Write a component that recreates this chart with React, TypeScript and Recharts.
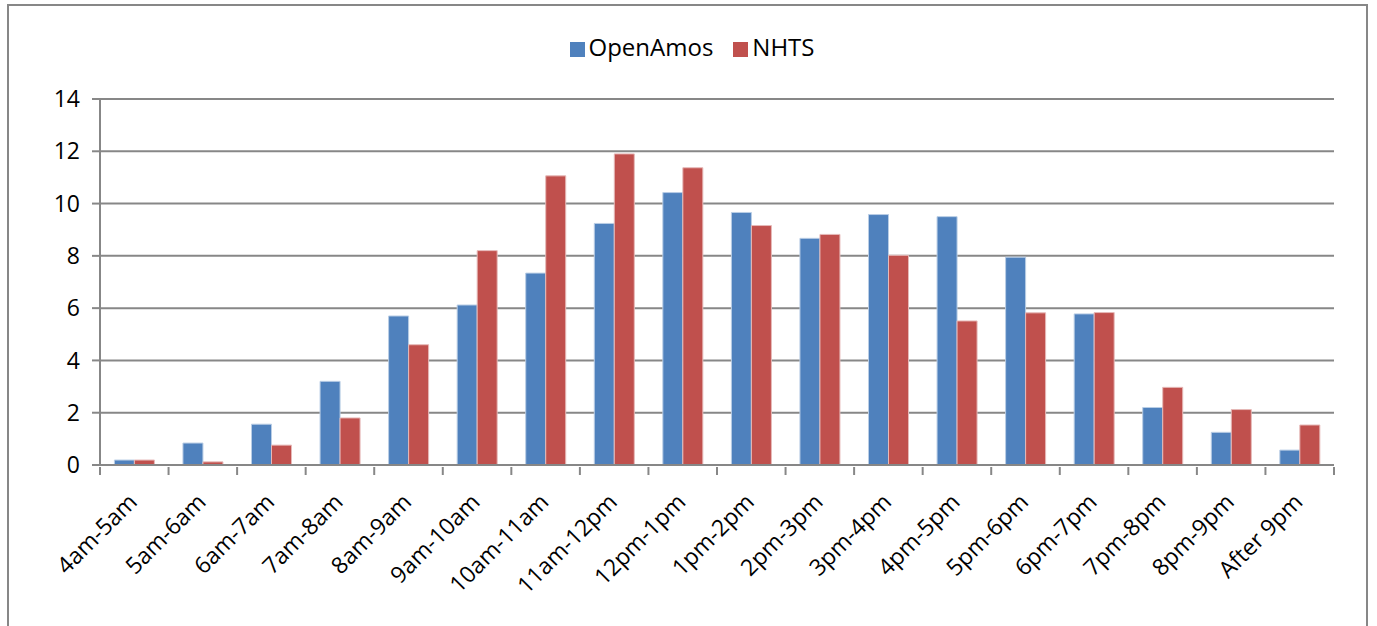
import React from 'react'
import { BarChart, Bar, XAxis, YAxis, CartesianGrid, Legend } from 'recharts'

const slots = [
  '4am-5am', '5am-6am', '6am-7am', '7am-8am', '8am-9am', '9am-10am',
  '10am-11am', '11am-12pm', '12pm-1pm', '1pm-2pm', '2pm-3pm', '3pm-4pm',
  '4pm-5pm', '5pm-6pm', '6pm-7pm', '7pm-8pm', '8pm-9pm', 'After 9pm',
]
const openAmos = [0.19, 0.84, 1.56, 3.2, 5.7, 6.12, 7.34, 9.24, 10.42, 9.66, 8.67, 9.58, 9.5, 7.95, 5.78, 2.2, 1.25, 0.57]
const nhts = [0.19, 0.12, 0.76, 1.8, 4.6, 8.2, 11.06, 11.9, 11.37, 9.16, 8.82, 8.02, 5.51, 5.82, 5.83, 2.97, 2.12, 1.53]
const yTicks = [0, 2, 4, 6, 8, 10, 12, 14]
const seriesOrder = ['OpenAmos', 'NHTS']

const data = slots.map((slot, i) => ({ slot, OpenAmos: openAmos[i], NHTS: nhts[i] }))

const font = '"Open Sans", sans-serif'
const grey = '#878787'

// label + tick marks at the category boundaries (Excel style)
function SlotTick(props: any) {
  const { x, y, payload, index } = props
  const half = payload.offset || 34.3
  const top = y - 8
  const last = index === slots.length - 1
  return (
    <g>
      <line x1={x - half} x2={x - half} y1={top} y2={top + 8} stroke={grey} strokeWidth={2} />
      {last && <line x1={x + half} x2={x + half} y1={top} y2={top + 8} stroke={grey} strokeWidth={2} />}
      <text
        transform={`translate(${x - 2}, ${y + 22}) rotate(-45)`}
        textAnchor="end"
        dominantBaseline="central"
        fontSize={23}
        fontFamily={font}
        fill="#000"
      >
        {payload.value}
      </text>
    </g>
  )
}

export default function App() {
  return (
    <div
      style={{
        position: 'absolute',
        left: 7,
        top: 4,
        width: 1357,
        height: 640,
        border: `2px solid ${grey}`,
        background: '#fff',
        fontFamily: font,
      }}
    >
      <style>{'body{overflow:hidden}'}</style>
      <BarChart
        width={1357}
        height={620}
        data={data}
        margin={{ top: 60, right: 32, bottom: 51, left: 31 }}
        barCategoryGap="21%"
        barGap={0}
      >
        <CartesianGrid vertical={false} stroke={grey} strokeWidth={2} />
        <XAxis
          dataKey="slot"
          height={110}
          stroke={grey}
          strokeWidth={2}
          tickLine={false}
          tickSize={8}
          interval={0}
          tick={<SlotTick />}
        />
        <YAxis
          domain={[0, 14]}
          ticks={yTicks}
          width={60}
          stroke={grey}
          strokeWidth={2}
          tickSize={8}
          tick={{ fill: '#000', fontSize: 23, fontFamily: font, dx: -10 }}
        />
        <Legend
          verticalAlign="top"
          align="center"
          iconType="square"
          iconSize={15}
          itemSorter={(item: any) => seriesOrder.indexOf(item.dataKey)}
          wrapperStyle={{ top: 24, left: 0, width: 1386, fontSize: 24, color: '#000' }}
          formatter={(v: string) => <span style={{ color: '#000', marginRight: 10 }}>{v}</span>}
        />
        <Bar dataKey="OpenAmos" fill="#4F81BD" stroke="#b9cde5" strokeWidth={1} isAnimationActive={false} />
        <Bar dataKey="NHTS" fill="#C0504D" stroke="#e6b9b8" strokeWidth={1} isAnimationActive={false} />
      </BarChart>
    </div>
  )
}
